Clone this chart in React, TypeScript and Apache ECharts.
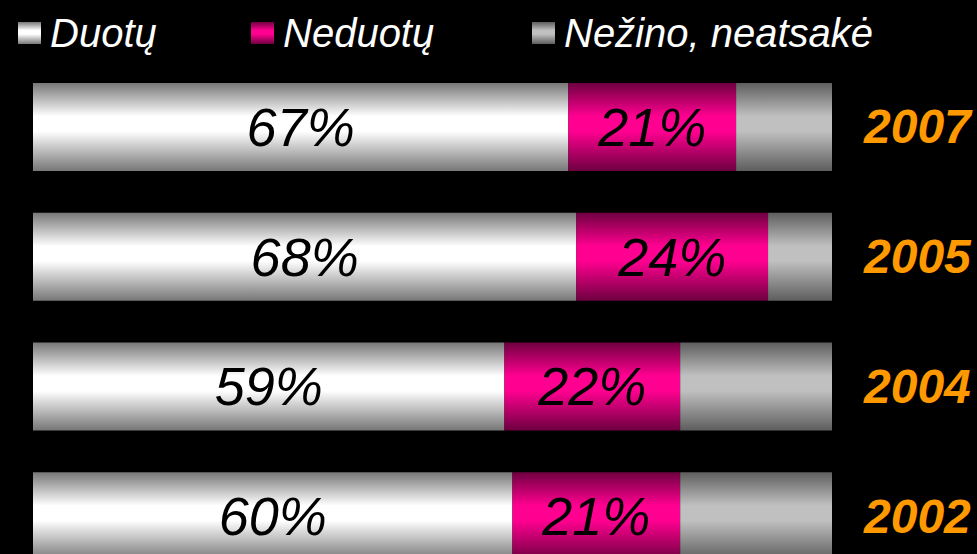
import React, { useEffect, useRef } from "react";
import * as echarts from "echarts";

const years = ["2007", "2005", "2004", "2002"];
const seriesNames = ["Duotų", "Neduotų", "Nežino, neatsakė"];
const duotu = [67, 68, 59, 60];
const neduotu = [21, 24, 22, 21];
const nezino = [12, 8, 19, 19];

const grad = (edge: string, mid: string) =>
  new echarts.graphic.LinearGradient(0, 0, 0, 1, [
    { offset: 0, color: edge },
    { offset: 0.38, color: mid },
    { offset: 0.55, color: mid },
    { offset: 1, color: edge },
  ]);

export default function App() {
  const ref = useRef<HTMLDivElement>(null);
  useEffect(() => {
    if (!ref.current) return;
    const chart = echarts.init(ref.current, undefined, { renderer: "svg" });
    const colors = [
      grad("#777777", "#ffffff"),
      grad("#6e0040", "#ff0090"),
      grad("#5e5e5e", "#c0c0c0"),
    ];
    const values = [duotu, neduotu, nezino];
    const labelStyle = {
      show: true,
      position: "inside",
      formatter: "{c}%",
      color: "#000",
      fontSize: 54,
      fontStyle: "italic",
      fontFamily: "Liberation Sans, Arial, sans-serif",
    };
    const legendLefts = [13, 246, 527];
    chart.setOption({
      animation: false,
      backgroundColor: "#000",
      legend: seriesNames.map((n, i) => ({
        data: [n],
        left: legendLefts[i],
        top: 8,
        icon: "rect",
        itemWidth: 23,
        itemHeight: 22,
        itemGap: 0,
        textStyle: {
          color: "#fff",
          fontSize: 40,
          fontStyle: "italic",
          fontFamily: "Liberation Sans, Arial, sans-serif",
          padding: [0, 0, 8, 4],
        },
      })),
      grid: {
        left: 33,
        right: 145,
        top: 62,
        height: 519,
        containLabel: false,
        outerBoundsMode: "none",
      },
      xAxis: { type: "value", min: 0, max: 100, show: false },
      yAxis: {
        type: "category",
        data: years,
        inverse: true,
        position: "right",
        axisLine: { show: false },
        axisTick: { show: false },
        splitLine: { show: false },
        axisLabel: {
          margin: 32,
          align: "left",
          color: "#ff9900",
          fontSize: 48,
          fontWeight: "bold",
          fontStyle: "italic",
          fontFamily: "Liberation Sans, Arial, sans-serif",
          padding: [0, 0, 14, 0],
        },
      },
      series: seriesNames.map((n, i) => ({
        name: n,
        type: "bar",
        stack: "total",
        barWidth: 88,
        data: values[i],
        itemStyle: { color: colors[i] },
        label: i < 2 ? labelStyle : { show: false },
        emphasis: { disabled: true },
      })),
    });
    return () => chart.dispose();
  }, []);
  return (
    <div
      ref={ref}
      style={{ position: "absolute", left: 0, top: 0, width: 977, height: 554, background: "#000" }}
    />
  );
}
